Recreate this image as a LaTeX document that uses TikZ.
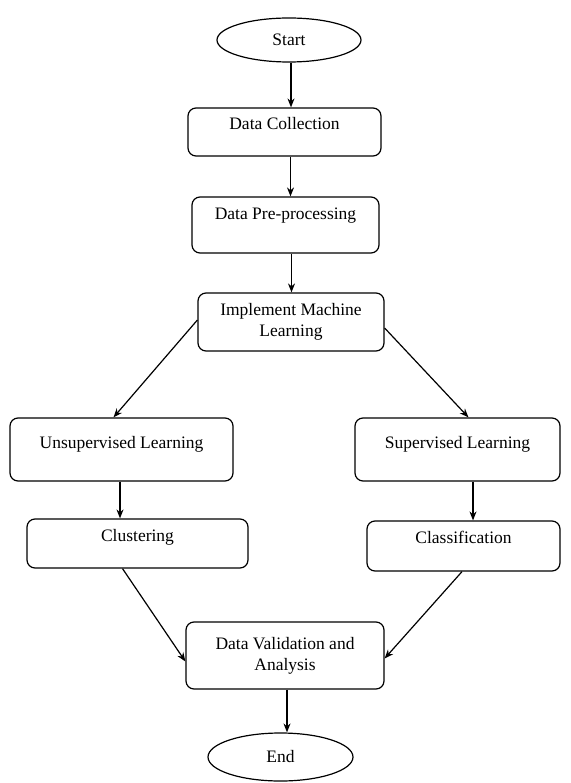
\documentclass[tikz,border=0pt]{standalone}
\usepackage{fontspec}
\setmainfont{Liberation Serif}
\usepackage{tikz}
\usetikzlibrary{arrows.meta}
\usetikzlibrary{shapes.geometric}
\usetikzlibrary{positioning}

\begin{document}
\begin{tikzpicture}[->,>={Stealth[length=9pt,width=7pt]},x=1pt,y=-1pt,line width=1.2pt,
		every node/.style={font=\fontsize{17.5}{21}\selectfont,inner sep=0pt},
		box/.style={draw,rounded corners=8pt,align=center},
		onebox/.style={box,text height=12pt},
		term/.style={draw,ellipse,minimum width=144pt,minimum height=44pt}]
		\useasboundingbox (0,0) rectangle (570,783);
		\node[term] (start) at (289,40) {Start};
		\node[onebox,minimum width=193pt,minimum height=48pt,text depth=16pt] (collect) at (284.5,132) {Data Collection};
		\node[onebox,minimum width=187pt,minimum height=56pt,text depth=22pt] (prep) at (285.5,225) {Data Pre-processing};
		\node[box,minimum width=186pt,minimum height=58pt] (impl) at (291,322) {Implement Machine\\Learning};
		\node[onebox,minimum width=223pt,minimum height=63pt,text depth=15pt] (unsup) at (121.5,449.5) {Unsupervised Learning};
		\node[onebox,minimum width=205pt,minimum height=63pt,text depth=15pt] (sup) at (457.5,449.5) {Supervised Learning};
		\node[onebox,minimum width=221pt,minimum height=49pt,text depth=17pt] (clus) at (137.5,543.5) {Clustering};
		\node[onebox,minimum width=193pt,minimum height=50pt,text depth=18pt] (class) at (463.5,546) {Classification};
		\node[box,minimum width=198pt,minimum height=67pt] (valid) at (285,655.5) {Data Validation and\\Analysis};
		\node[term,minimum width=145pt,minimum height=48pt] (end) at (280.5,757) {End};
		\draw ([xshift=2pt]start.south) -- ([xshift=2pt]start.south |- collect.north);
		\draw ([xshift=6pt]collect.south) -- ([xshift=6pt]collect.south |- prep.north);
		\draw ([xshift=6pt]prep.south) -- ([xshift=6pt]prep.south |- impl.north);
		\draw ([yshift=2pt]impl.west) -- ([xshift=-8pt]unsup.north);
		\draw ([yshift=-6pt]impl.east) -- ([xshift=11pt]sup.north);
		\draw ([xshift=-1.5pt]unsup.south) -- ([xshift=-1.5pt]unsup.south |- clus.north);
		\draw ([xshift=15.5pt]sup.south) -- ([xshift=15.5pt]sup.south |- class.north);
		\draw ([xshift=-15pt]clus.south) -- ([yshift=-6pt]valid.west);
		\draw ([xshift=-1.5pt]class.south) -- ([yshift=-3pt]valid.east);
		\draw ([xshift=2pt]valid.south) -- ([xshift=2pt]valid.south |- end.north);
\end{tikzpicture}
\end{document}
